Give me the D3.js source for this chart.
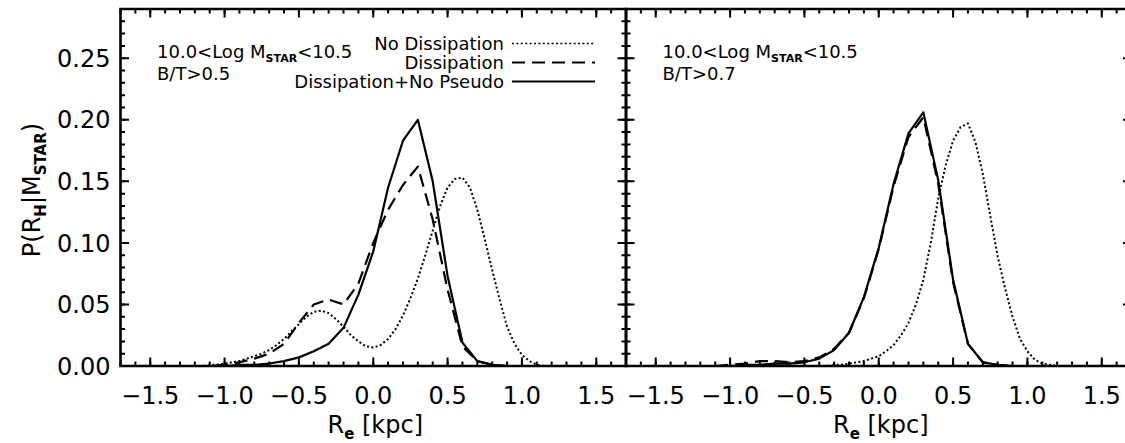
<!DOCTYPE html>
<html>
<head>
<meta charset="utf-8">
<script src="https://cdn.jsdelivr.net/npm/d3@7"></script>
<style>
  body { margin: 0; background: #fff; }
  svg { display: block; font-family: 'DejaVu Sans', sans-serif; }
</style>
</head>
<body>
<div id="viz"></div>
<script>
// values
let xMajor = [-1.5, -1.0, -0.5, 0.0, 0.5, 1.0, 1.5];
let yMajor = [0.00, 0.05, 0.10, 0.15, 0.20, 0.25];

let leftX = [-1.2,-1.1,-1.0,-0.9,-0.8,-0.7,-0.6,-0.5,-0.4,-0.3,-0.2,-0.1,0.0,0.1,0.2,0.3,0.4,0.5,0.6,0.7,0.8,0.9,1.0];
let leftSolid = [0,0,0.000,0.001,0.001,0.002,0.004,0.007,0.012,0.018,0.031,0.058,0.093,0.145,0.183,0.200,0.150,0.073,0.019,0.004,0.001,0,0];
let leftDashed = [0,0,0.001,0.003,0.006,0.010,0.018,0.035,0.050,0.054,0.050,0.067,0.100,0.127,0.147,0.162,0.119,0.062,0.016,0.004,0.001,0,0];

let dotX = [-1.2,-1.15,-1.1,-1.05,-1.0,-0.95,-0.9,-0.85,-0.8,-0.75,-0.7,-0.65,-0.6,-0.55,-0.5,-0.45,-0.4,-0.35,-0.3,-0.25,-0.2,-0.15,-0.1,-0.05,0.0,0.05,0.1,0.15,0.2,0.25,0.3,0.35,0.4,0.45,0.5,0.55,0.6,0.65,0.7,0.75,0.8,0.85,0.9,0.95,1.0,1.05,1.1,1.15,1.2];
let leftDotted = [0.000,0.000,0.001,0.001,0.002,0.003,0.004,0.006,0.008,0.010,0.013,0.017,0.022,0.028,0.034,0.040,0.044,0.045,0.043,0.038,0.032,0.025,0.020,0.016,0.015,0.017,0.022,0.030,0.041,0.055,0.071,0.090,0.110,0.130,0.145,0.152,0.153,0.145,0.127,0.103,0.078,0.054,0.032,0.018,0.009,0.004,0.001,0.000,0.000];

let rightX = [-1.1,-1.0,-0.9,-0.8,-0.7,-0.6,-0.5,-0.4,-0.3,-0.2,-0.1,0.0,0.1,0.2,0.3,0.4,0.5,0.6,0.7,0.8,0.9];
let rightSolid = [0,0.000,0.001,0.001,0.002,0.002,0.003,0.006,0.013,0.027,0.056,0.096,0.148,0.189,0.206,0.151,0.070,0.018,0.003,0.001,0];
let rightDashed = [0,0.001,0.002,0.004,0.004,0.003,0.004,0.007,0.014,0.027,0.055,0.095,0.146,0.186,0.202,0.148,0.068,0.018,0.003,0.001,0];
let rightDotted = [0,0,0,0,0,0,0,0,0,0,0,0,0,0,0,0,0.000,0.000,0.001,0.001,0.002,0.003,0.004,0.006,0.008,0.012,0.017,0.025,0.035,0.050,0.070,0.100,0.136,0.163,0.183,0.194,0.197,0.182,0.156,0.122,0.089,0.063,0.040,0.022,0.012,0.005,0.002,0.001,0.000];

let legendNames = ['No Dissipation', 'Dissipation', 'Dissipation+No Pseudo'];
let panelCuts = ['B/T>0.5', 'B/T>0.7'];

let styles = {
  dotted: { dash: '2,2.4', width: 2 },
  dashed: { dash: '13,7', width: 2.2 },
  solid: { dash: null, width: 2.2 }
};

let W = 1125, H = 443,
    yTop = 9, yBottom = 366,
    panelW = 505.5,
    panelLeft = [120.5, 626];

let svg = d3.select('#viz').append('svg')
  .attr('width', W)
  .attr('height', H);

let yScale = d3.scaleLinear()
  .domain([0, 0.29])
  .range([yBottom, yTop]);

let yMinor = d3.range(0, 30).map(function(i) { return i / 100; });
let xMinor = d3.range(-17, 18).map(function(i) { return i / 10; });

let panels = [
  { x0: panelLeft[0], solid: [leftX, leftSolid], dashed: [leftX, leftDashed], dotted: [dotX, leftDotted], cut: panelCuts[0], labels: true, legend: true },
  { x0: panelLeft[1], solid: [rightX, rightSolid], dashed: [rightX, rightDashed], dotted: [dotX, rightDotted], cut: panelCuts[1], labels: false, legend: false }
];

// inward tick marks along one edge, one path per set
function xTicks(g, xScale, values, y, len) {
  g.append('path')
    .attr('d', values.map(function(d) {
      return 'M' + xScale(d) + ',' + y + 'V' + (y + len);
    }).join(''))
    .attr('fill', 'none')
    .attr('stroke', '#000')
    .attr('stroke-width', 2);
}

function yTicks(g, values, x, len) {
  g.append('path')
    .attr('d', values.map(function(d) {
      return 'M' + x + ',' + yScale(d) + 'H' + (x + len);
    }).join(''))
    .attr('fill', 'none')
    .attr('stroke', '#000')
    .attr('stroke-width', 2);
}

panels.forEach(function(p) {
  let xScale = d3.scaleLinear()
    .domain([-1.7, 1.7])
    .range([p.x0, p.x0 + panelW]);
  let x1 = p.x0 + panelW;

  let g = svg.append('g');

  // frame
  g.append('path')
    .attr('d', 'M' + p.x0 + ',' + yTop + 'H' + x1 + 'V' + yBottom + 'H' + p.x0 + 'Z')
    .attr('fill', 'none')
    .attr('stroke', '#000')
    .attr('stroke-width', 2.6);

  xTicks(g, xScale, xMinor, yBottom, -4.5);
  xTicks(g, xScale, xMajor, yBottom, -8.5);
  xTicks(g, xScale, xMinor, yTop, 4.5);
  xTicks(g, xScale, xMajor, yTop, 8.5);
  yTicks(g, yMinor, p.x0, 4.5);
  yTicks(g, yMajor, p.x0, 8.5);
  yTicks(g, yMinor, x1, -4.5);
  yTicks(g, yMajor, x1, -8.5);

  g.selectAll('.xlab').data(xMajor)
    .enter().append('text')
    .attr('class', 'xlab')
    .attr('x', function(d) { return xScale(d); })
    .attr('y', 404)
    .attr('text-anchor', 'middle')
    .attr('font-size', 24)
    .text(d3.format('.1f'));

  if (p.labels) {
    g.selectAll('.ylab').data(yMajor)
      .enter().append('text')
      .attr('class', 'ylab')
      .attr('x', p.x0 - 10)
      .attr('y', function(d) { return yScale(d); })
      .attr('dy', '0.36em')
      .attr('text-anchor', 'end')
      .attr('font-size', 24)
      .text(d3.format('.2f'));
  }

  // curves
  ['dotted', 'dashed', 'solid'].forEach(function(k) {
    let xs = p[k][0], ys = p[k][1];
    let line = d3.line()
      .x(function(d, i) { return xScale(xs[i]); })
      .y(function(d) { return yScale(d); });
    g.append('path')
      .attr('d', line(ys))
      .attr('fill', 'none')
      .attr('stroke', '#000')
      .attr('stroke-width', styles[k].width)
      .attr('stroke-dasharray', styles[k].dash)
      .attr('stroke-linejoin', 'round');
  });

  // annotation
  let ann = g.append('text')
    .attr('x', p.x0 + 36.5)
    .attr('y', 58)
    .attr('font-size', 18);
  ann.append('tspan').text('10.0<Log M');
  ann.append('tspan').attr('dy', 4).attr('font-size', 11).attr('font-weight', 'bold').text('STAR');
  ann.append('tspan').attr('dy', -4).text('<10.5');
  g.append('text')
    .attr('x', p.x0 + 36.5)
    .attr('y', 80)
    .attr('font-size', 18)
    .text(p.cut);

  // x title
  let xt = g.append('text')
    .attr('x', p.x0 + panelW / 2 + 2)
    .attr('y', 433)
    .attr('text-anchor', 'middle')
    .attr('font-size', 24);
  xt.append('tspan').text('R');
  xt.append('tspan').attr('dy', 6).attr('font-size', 15).attr('font-weight', 'bold').text('e');
  xt.append('tspan').attr('dy', -6).text(' [kpc]');

  if (p.legend) {
    let keys = ['dotted', 'dashed', 'solid'];
    legendNames.forEach(function(name, i) {
      let yy = 43.5 + i * 19;
      g.append('text')
        .attr('x', 504)
        .attr('y', yy + 6)
        .attr('text-anchor', 'end')
        .attr('font-size', 18)
        .text(name);
      g.append('line')
        .attr('x1', 512).attr('x2', 595)
        .attr('y1', yy).attr('y2', yy)
        .attr('stroke', '#000')
        .attr('stroke-width', keys[i] == 'dotted' ? 1.5 : 2.2)
        .attr('stroke-dasharray', styles[keys[i]].dash);
    });
  }
});

// y title
let yt = svg.append('text')
  .attr('transform', 'translate(40,190) rotate(-90)')
  .attr('text-anchor', 'middle')
  .attr('font-size', 24);
yt.append('tspan').text('P(R');
yt.append('tspan').attr('dy', 6).attr('font-size', 15).attr('font-weight', 'bold').text('H');
yt.append('tspan').attr('dy', -6).text('|M');
yt.append('tspan').attr('dy', 6).attr('font-size', 15).attr('font-weight', 'bold').text('STAR');
yt.append('tspan').attr('dy', -6).text(')');
</script>
</body>
</html>
